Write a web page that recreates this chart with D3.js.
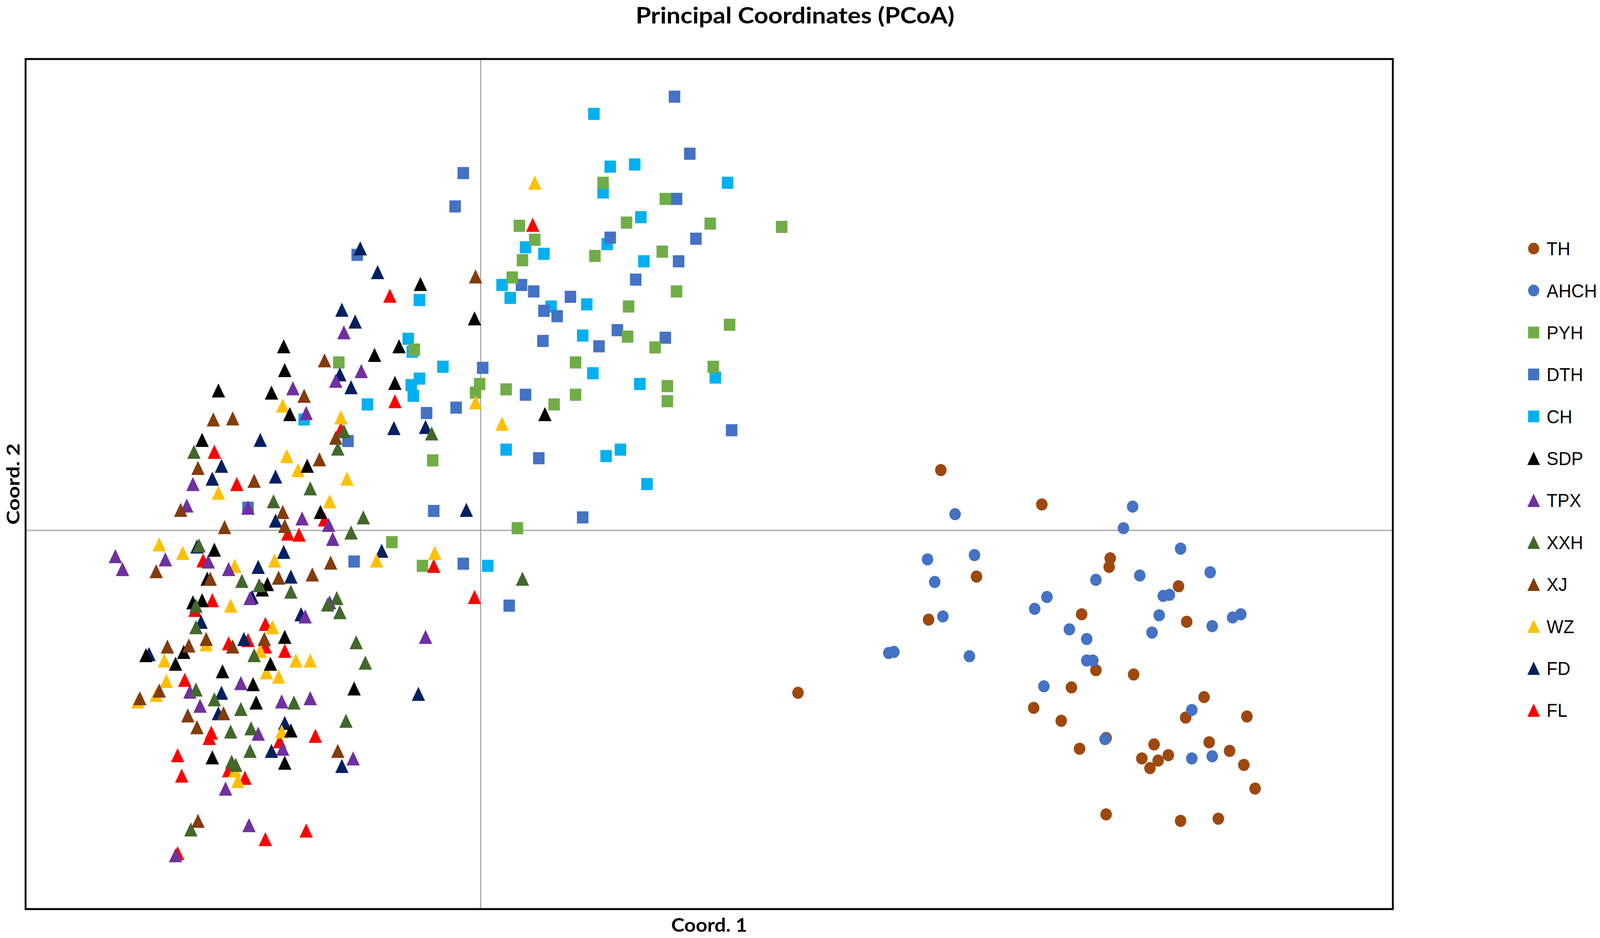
<!DOCTYPE html>
<html>
<head>
<meta charset="utf-8">
<script src="https://cdn.jsdelivr.net/npm/d3@7"></script>
<style>
  html, body { margin: 0; padding: 0; background: #fff; overflow: hidden; }
  #chart svg { display: block; width: 100vw; height: 100vh; }
</style>
</head>
<body>
<div id="chart"></div>
<script>
// Groups, in legend order
const groups = ["TH", "AHCH", "PYH", "DTH", "CH", "SDP", "TPX", "XXH", "XJ", "WZ", "FD", "FL"];

// Coordinates [Coord. 1, Coord. 2], one array per group
const TH = [[4.51,0.56],[5.50,0.24],[6.17,-0.26],[6.16,-0.34],[4.86,-0.43],[4.39,-0.83],[5.89,-0.78],[6.84,-0.52],
  [6.92,-0.85],[3.11,-1.51],[6.03,-1.30],[6.40,-1.34],[5.79,-1.46],[5.42,-1.65],[5.69,-1.77],[7.09,-1.55],
  [6.91,-1.74],[7.51,-1.73],[6.13,-1.93],[5.87,-2.03],[6.60,-1.99],[7.14,-1.97],[7.34,-2.05],[6.74,-2.09],
  [6.48,-2.12],[6.64,-2.14],[6.56,-2.21],[7.48,-2.18],[7.59,-2.40],[6.13,-2.64],[6.86,-2.70],[7.23,-2.68]];
const AHCH = [[4.65,0.15],[4.38,-0.27],[4.84,-0.23],[4.45,-0.48],[4.53,-0.80],[4.00,-1.14],[4.05,-1.13],[4.79,-1.17],
  [5.43,-0.73],[6.39,0.22],[6.30,0.02],[6.86,-0.17],[6.03,-0.46],[6.46,-0.42],[7.15,-0.39],[5.55,-0.62],
  [6.69,-0.61],[6.75,-0.60],[6.65,-0.79],[7.37,-0.81],[7.45,-0.78],[7.17,-0.89],[5.77,-0.92],[5.94,-1.01],
  [6.58,-0.95],[5.94,-1.21],[6.00,-1.21],[5.52,-1.45],[6.97,-1.67],[6.12,-1.94],[6.97,-2.12],[7.17,-2.10]];
const PYH = [[1.20,3.23],[1.81,3.08],[1.43,2.86],[2.25,2.85],[2.95,2.82],[0.38,2.83],[0.53,2.70],[0.41,2.51],
  [1.12,2.55],[1.78,2.59],[0.31,2.35],[1.92,2.22],[1.45,2.08],[2.44,1.91],[1.44,1.80],[1.71,1.70],
  [0.93,1.56],[2.28,1.52],[-0.01,1.36],[-0.05,1.28],[0.25,1.31],[0.93,1.26],[1.83,1.34],[1.83,1.20],
  [0.72,1.17],[-0.47,0.65],[-1.39,1.56],[-0.65,1.68],[0.36,0.02],[-0.87,-0.11],[-0.57,-0.33]];
const DTH = [[1.90,4.03],[2.05,3.50],[-0.17,3.32],[1.92,3.08],[-0.25,3.01],[1.27,2.72],[2.11,2.71],[1.94,2.50],
  [0.40,2.28],[0.52,2.22],[1.52,2.33],[0.88,2.17],[0.62,2.04],[0.75,1.99],[0.61,1.76],[1.34,1.86],
  [1.81,1.79],[1.16,1.71],[0.02,1.51],[-0.24,1.14],[-0.53,1.09],[0.44,1.26],[2.46,0.93],[0.57,0.67],
  [-1.21,2.56],[-1.30,0.83],[-0.46,0.18],[1.00,0.12],[-0.17,-0.31],[-1.24,-0.29],[0.28,-0.70],[-2.28,0.21]];
const CH = [[1.11,3.87],[1.27,3.38],[1.51,3.40],[1.20,3.14],[2.42,3.23],[1.57,2.91],[0.44,2.63],[0.62,2.57],
  [1.24,2.66],[1.60,2.50],[0.21,2.28],[0.29,2.16],[1.04,2.10],[0.69,2.08],[1.00,1.81],[-0.37,1.52],
  [1.10,1.46],[1.56,1.36],[2.30,1.42],[0.25,0.75],[1.23,0.69],[1.37,0.75],[1.63,0.43],[-0.60,2.14],
  [-0.71,1.78],[-0.67,1.66],[-0.60,1.41],[-0.68,1.35],[-0.66,1.25],[-1.11,1.17],[-1.73,1.03],[0.07,-0.33]];
const SDP = [[-1.93,1.71],[-1.92,1.49],[-2.57,1.30],[-2.05,1.28],[-1.87,1.08],[-2.73,0.84],[-1.70,0.60],[-0.59,2.29],
  [-0.06,1.97],[-0.80,1.71],[-1.04,1.63],[-0.84,1.37],[0.63,1.08],[-1.57,0.17],[-2.61,-0.18],[-2.68,-0.45],
  [-2.09,-0.50],[-2.14,-0.55],[-2.82,-0.67],[-2.73,-0.65],[-1.92,-0.99],[-3.28,-1.16],[-2.99,-1.24],[-2.91,-1.13],
  [-2.06,-1.24],[-2.53,-1.31],[-2.23,-1.43],[-2.20,-1.60],[-1.86,-1.86],[-2.63,-2.11],[-1.92,-2.16],[-1.24,-1.47]];
const TPX = [[-1.34,1.84],[-1.84,1.32],[-1.42,1.39],[-1.71,1.09],[-2.82,0.43],[-1.17,1.48],[-2.88,0.23],[-2.28,0.21],
  [-1.75,0.11],[-1.49,0.05],[-1.45,-0.08],[-3.58,-0.24],[-3.51,-0.36],[-3.09,-0.27],[-2.67,-0.29],[-2.47,-0.36],
  [-2.26,-0.63],[-1.48,-0.67],[-1.72,-0.80],[-2.35,-1.42],[-2.85,-1.50],[-2.75,-1.63],[-1.95,-1.59],[-1.67,-1.56],
  [-2.18,-1.89],[-1.94,-2.03],[-2.50,-2.40],[-2.27,-2.74],[-2.99,-3.02],[-0.54,-0.99],[-1.25,-2.12]];
const XXH = [[-1.34,0.92],[-1.40,0.76],[-2.81,0.73],[-0.48,0.90],[-2.03,0.27],[-1.67,0.39],[-1.27,-0.02],[-1.15,0.12],
  [0.41,-0.45],[-1.22,-1.04],[-1.13,-1.23],[-2.76,-0.14],[-2.34,-0.47],[-2.17,-0.51],[-1.86,-0.57],[-1.50,-0.69],
  [-1.41,-0.63],[-1.38,-0.76],[-2.79,-0.70],[-2.79,-0.90],[-2.22,-1.16],[-2.79,-1.48],[-2.61,-1.57],[-2.35,-1.66],
  [-1.83,-1.60],[-2.45,-1.87],[-2.25,-1.84],[-1.32,-1.77],[-2.26,-2.05],[-2.44,-2.15],[-2.40,-2.18],[-2.84,-2.78]];
const XJ = [[-1.53,1.58],[-1.73,1.25],[-2.62,1.03],[-2.43,1.04],[-1.42,0.86],[-1.58,0.66],[-2.77,0.58],[-2.22,0.46],
  [-0.05,2.36],[-2.94,0.19],[-2.51,0.03],[-1.94,0.17],[-1.92,0.04],[-3.18,-0.38],[-2.65,-0.45],[-1.98,-0.44],
  [-1.65,-0.41],[-1.47,-0.30],[-2.69,-1.01],[-2.43,-1.08],[-2.12,-1.01],[-3.07,-1.08],[-2.86,-1.07],[-3.15,-1.49],
  [-3.34,-1.56],[-2.87,-1.72],[-2.52,-1.70],[-2.78,-1.83],[-1.40,-2.05],[-2.77,-2.70]];
const WZ = [[-1.94,1.16],[-1.37,1.05],[-1.90,0.69],[-1.79,0.56],[-1.31,0.48],[0.53,3.23],[-0.05,1.19],[0.21,0.99],
  [-2.57,0.35],[-1.48,0.27],[-1.02,-0.28],[-0.45,-0.21],[-3.15,-0.13],[-2.92,-0.21],[-2.41,-0.33],[-2.02,-0.28],
  [-2.45,-0.70],[-2.04,-0.90],[-2.69,-1.06],[-2.16,-1.12],[-3.10,-1.21],[-1.81,-1.21],[-1.67,-1.21],[-2.10,-1.32],
  [-1.98,-1.36],[-3.08,-1.40],[-3.18,-1.53],[-3.36,-1.59],[-1.95,-1.87],[-2.41,-2.23],[-2.38,-2.33]];
const FD = [[-1.36,2.05],[-1.23,1.94],[-1.38,1.45],[-1.27,1.33],[-2.16,0.84],[-2.54,0.60],[-2.63,0.48],[-2.01,0.50],
  [-1.18,2.62],[-1.01,2.40],[-0.85,0.95],[-0.54,0.96],[-0.14,0.19],[-0.97,-0.19],[-0.61,-1.52],[-2.01,0.09],
  [-2.78,-0.15],[-2.18,-0.34],[-1.93,-0.20],[-1.86,-0.43],[-2.24,-0.62],[-3.25,-1.15],[-2.32,-1.01],[-1.76,-0.78],
  [-2.74,-0.85],[-2.54,-1.51],[-2.57,-1.70],[-1.92,-1.79],[-2.05,-2.05],[-1.36,-2.19]];
const FL = [[-2.61,0.73],[-2.39,0.43],[-1.37,0.94],[-0.89,2.18],[-0.84,1.20],[0.51,2.84],[-1.53,0.10],[-1.89,-0.03],
  [-1.78,-0.04],[-0.46,-0.33],[-0.06,-0.62],[-2.72,-0.28],[-2.63,-0.65],[-2.80,-0.74],[-2.11,-0.87],[-2.47,-1.05],
  [-2.28,-1.02],[-2.11,-1.08],[-1.92,-1.12],[-2.90,-1.39],[-2.64,-1.88],[-2.66,-1.93],[-1.97,-1.96],[-1.62,-1.91],
  [-2.97,-2.09],[-2.93,-2.28],[-2.47,-2.23],[-2.31,-2.30],[-2.11,-2.87],[-1.71,-2.79],[-2.97,-3.00]];

// Axis extents of the plot area
const xDomain = [-4.46, 8.94];
const yDomain = [-3.52, 4.38];

const seriesData = { TH, AHCH, PYH, DTH, CH, SDP, TPX, XXH, XJ, WZ, FD, FL };

// styles per group
const color = {
  TH: "#9e480e", AHCH: "#4472c4", PYH: "#70ad47", DTH: "#4472c4", CH: "#00b0f0",
  SDP: "#000000", TPX: "#7030a0", XXH: "#43682b", XJ: "#843c0c", WZ: "#ffc000",
  FD: "#002060", FL: "#ff0000"
};
const shape = {
  TH: "circle", AHCH: "circle", PYH: "square", DTH: "square", CH: "square",
  SDP: "triangle", TPX: "triangle", XXH: "triangle", XJ: "triangle", WZ: "triangle",
  FD: "triangle", FL: "triangle"
};
// order the series are painted in (later ones on top)
const drawOrder = ["TH", "AHCH", "CH", "DTH", "PYH", "FL", "FD", "WZ", "SDP", "TPX", "XJ", "XXH"];

const W = 4317, H = 2400;
const plot = { left: 69, right: 3758, top: 151, bottom: 2326 };

// drawn in a fixed 4317x2400 box, stretched to whatever the window really is
const svg = d3.select("#chart").append("svg")
  .attr("viewBox", `0 0 ${W} ${H}`)
  .attr("preserveAspectRatio", "none")
  .style("background", "#fff");

const x = d3.scaleLinear().domain(xDomain).range([plot.left, plot.right]);
const y = d3.scaleLinear().domain(yDomain).range([plot.bottom, plot.top]);

// marker path, centred on 0,0
function marker(kind, s) {
  const h = s / 2;
  if (kind === "triangle") return `M0,${-h}L${h},${h}L${-h},${h}Z`;
  if (kind === "square") return `M${-h},${-h}H${h}V${h}H${-h}Z`;
  return d3.symbol(d3.symbolCircle, Math.PI * h * h)();
}
const markerSize = { triangle: 36, square: 31, circle: 31 };

// zero lines
svg.append("line")
  .attr("x1", x(0)).attr("x2", x(0))
  .attr("y1", plot.top).attr("y2", plot.bottom)
  .attr("stroke", "#a6a6a6").attr("stroke-width", 3);
svg.append("line")
  .attr("x1", plot.left).attr("x2", plot.right)
  .attr("y1", y(0)).attr("y2", y(0))
  .attr("stroke", "#a6a6a6").attr("stroke-width", 3);

// points
const pts = svg.append("g");
drawOrder.forEach(function (g) {
  pts.append("g").selectAll("path")
    .data(seriesData[g])
    .join("path")
    .attr("d", marker(shape[g], markerSize[shape[g]]))
    .attr("transform", d => `translate(${x(d[0])},${y(d[1])})`)
    .attr("fill", color[g]);
});

// frame
svg.append("rect")
  .attr("x", plot.left).attr("y", plot.top)
  .attr("width", plot.right - plot.left).attr("height", plot.bottom - plot.top)
  .attr("fill", "none").attr("stroke", "#000").attr("stroke-width", 5);

// titles
svg.append("text")
  .attr("x", 2145).attr("y", 60)
  .attr("text-anchor", "middle")
  .attr("textLength", 860).attr("lengthAdjust", "spacingAndGlyphs")
  .style("font-family", "Lato, 'Open Sans', sans-serif")
  .style("font-weight", 700).style("font-size", "58px")
  .text("Principal Coordinates (PCoA)");

svg.append("text")
  .attr("x", (plot.left + plot.right) / 2).attr("y", 2384)
  .attr("text-anchor", "middle")
  .attr("textLength", 205).attr("lengthAdjust", "spacingAndGlyphs")
  .style("font-family", "Lato, 'Open Sans', sans-serif")
  .style("font-weight", 700).style("font-size", "48px")
  .text("Coord. 1");

svg.append("text")
  .attr("transform", `translate(53,${(plot.top + plot.bottom) / 2}) rotate(-90)`)
  .attr("text-anchor", "middle")
  .attr("textLength", 208).attr("lengthAdjust", "spacingAndGlyphs")
  .style("font-family", "Lato, 'Open Sans', sans-serif")
  .style("font-weight", 700).style("font-size", "48px")
  .text("Coord. 2");

// legend
const legendY = d3.scalePoint().domain(groups).range([636, 1817]);
const legend = svg.append("g").selectAll("g")
  .data(groups)
  .join("g")
  .attr("transform", d => `translate(4138,${legendY(d)})`);

legend.append("path")
  .attr("d", d => marker(shape[d], shape[d] === "triangle" ? 34 : 30))
  .attr("fill", d => color[d]);

legend.append("text")
  .attr("x", 35).attr("dy", "0.36em")
  .style("font-family", "'Liberation Sans', Arial, sans-serif")
  .style("font-size", "48px")
  .attr("fill", "#000")
  .text(d => d);
</script>
</body>
</html>
